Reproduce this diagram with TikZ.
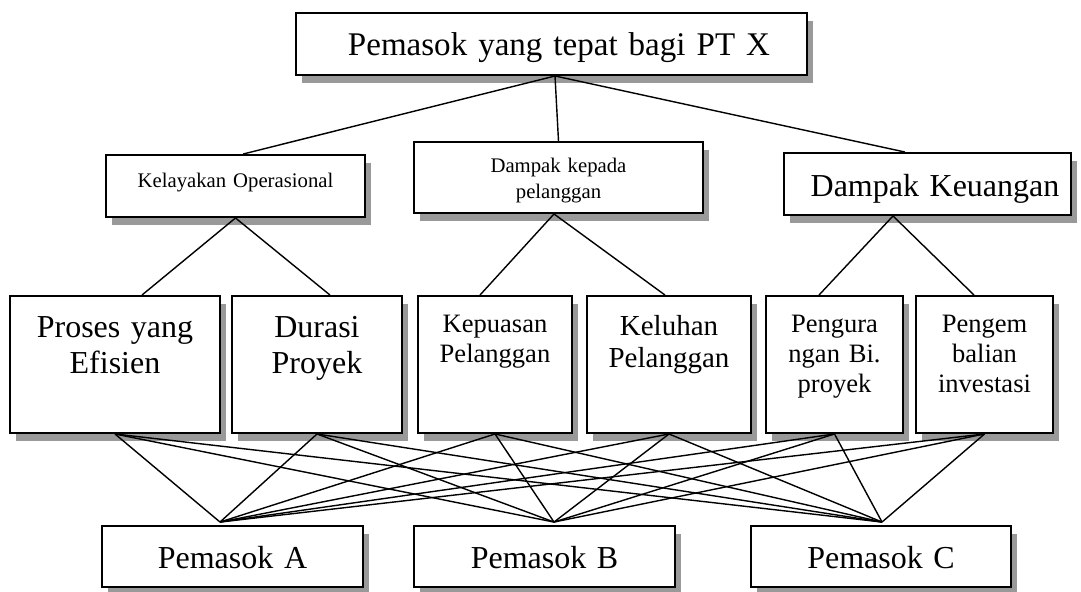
\documentclass[tikz,border=0pt]{standalone}
\usepackage{fontspec}
\setmainfont{Liberation Serif}
\usetikzlibrary{shadows,calc}
\definecolor{shadowgray}{RGB}{153,153,153}
\tikzset{box/.style={draw,line width=1.1pt,fill=white,inner sep=0pt,align=center,drop shadow={shadow xshift=0.12cm,shadow yshift=-0.16cm,fill=shadowgray,opacity=1}},dims/.style n args={3}{text width=#1,text height=#2,text depth=#3},big/.style={box,font=\fontsize{18.2}{20.5}\selectfont},mid/.style={box,font=\fontsize{15.1}{17.1}\selectfont},small/.style={box,font=\fontsize{11.8}{14.8}\selectfont},link/.style={line width=0.8pt}}

\begin{document}
\begin{tikzpicture}
\useasboundingbox (0,0) rectangle (21.62,-11.82);
\node[box,font=\fontsize{18.8}{21}\selectfont,dims={10.22cm}{0.85cm}{0.39cm}] (goal) at (11.03,-0.88) {\hspace*{0.3cm}Pemasok yang tepat bagi PT X};
\node[small,dims={5.18cm}{0.64cm}{0.60cm}] (operasi) at (4.71,-3.72) {Kelayakan Operasional};
\node[small,dims={5.78cm}{0.60cm}{0.82cm}] (pelanggan) at (11.17,-3.55) {Dampak kepada\\pelanggan};
\node[big,dims={5.74cm}{0.86cm}{0.38cm}] (keuangan) at (18.55,-3.68) {\hspace*{0.3cm}Dampak Keuangan};
\node[big,dims={4.20cm}{0.82cm}{1.92cm}] (efis) at (2.30,-7.29) {Proses yang\\Efisien};
\node[big,dims={3.40cm}{0.82cm}{1.92cm}] (durasi) at (6.34,-7.29) {Durasi\\Proyek};
\node[mid,dims={3.08cm}{0.72cm}{2.02cm}] (kepuasan) at (9.90,-7.29) {Kepuasan\\Pelanggan};
\node[box,font=\fontsize{16.5}{18.4}\selectfont,dims={3.28cm}{0.78cm}{1.96cm}] (keluhan) at (13.38,-7.29) {Keluhan\\Pelanggan};
\node[mid,dims={2.74cm}{0.72cm}{2.02cm}] (biaya) at (16.69,-7.29) {Pengura\\ngan Bi.\\proyek};
\node[mid,dims={2.74cm}{0.72cm}{2.02cm}] (invest) at (19.69,-7.29) {Pengem\\balian\\investasi};
\node[big,dims={5.22cm}{0.84cm}{0.38cm}] (supA) at (4.65,-11.13) {Pemasok A};
\node[big,dims={5.22cm}{0.84cm}{0.38cm}] (supB) at (10.89,-11.13) {Pemasok B};
\node[big,dims={5.20cm}{0.84cm}{0.38cm}] (supC) at (17.62,-11.13) {Pemasok C};
% points where the alternatives meet
\coordinate (ja) at ($(supA.north)+(-0.25,0.06)$);
\coordinate (jb) at ($(supB.north)+(0.19,0.06)$);
\coordinate (jc) at ($(supC.north)+(0.02,0.06)$);
\draw[link] ([xshift=0.07cm]goal.south)--([xshift=0.15cm]operasi.north);
\draw[link] ([xshift=0.07cm]goal.south)--(pelanggan.north);
\draw[link] ([xshift=0.07cm]goal.south)--([xshift=-0.45cm]keuangan.north);
\draw[link] (operasi.south)--([xshift=0.54cm]efis.north);
\draw[link] (operasi.south)--([xshift=0.26cm]durasi.north);
\draw[link] ([xshift=-0.09cm]pelanggan.south)--([xshift=-0.30cm]kepuasan.north);
\draw[link] ([xshift=-0.09cm]pelanggan.south)--([xshift=-0.08cm]keluhan.north);
\draw[link] ([xshift=-0.69cm]keuangan.south)--([xshift=-0.31cm]biaya.north);
\draw[link] ([xshift=-0.69cm]keuangan.south)--([xshift=-0.21cm]invest.north);
\foreach \s in {efis,durasi,kepuasan,keluhan,biaya,invest}
  \foreach \t in {ja,jb,jc}
    \draw[link] (\s.south)--(\t);
\end{tikzpicture}
\end{document}
